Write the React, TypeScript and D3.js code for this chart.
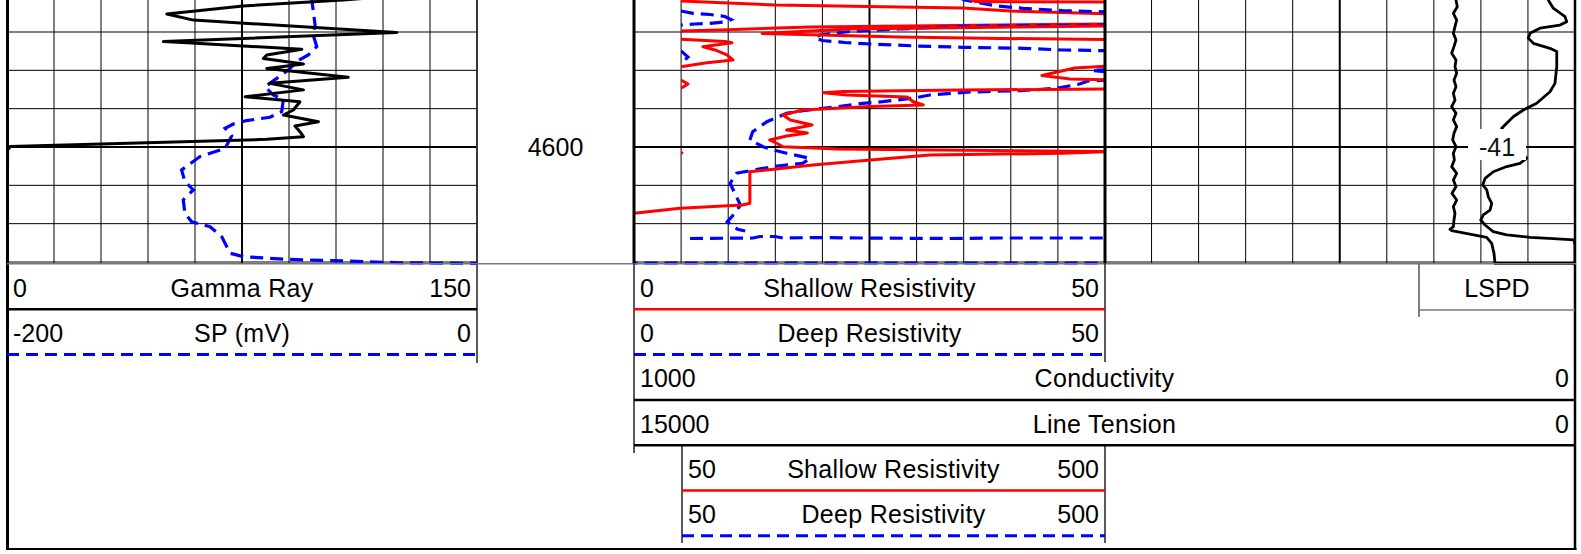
import React from "react";
import * as d3 from "d3";

type Pt = [number, number]; // [depth (ft), value]

// ---- curve data ----
const gammaRay: Pt[] = [
  [4561.0, 117.4], [4561.65, 107.3], [4563.2, 75.3], [4565.3, 51.0], [4566.9, 59.5],
  [4570.1, 124.4], [4572.5, 49.9], [4572.8, 57.4], [4574.5, 94.1], [4576.0, 82.9],
  [4576.9, 81.8], [4578.35, 94.6], [4579.5, 82.9], [4581.8, 108.9], [4583.4, 83.9],
  [4585.1, 94.6], [4586.9, 76.0], [4588.2, 93.5], [4590.35, 91.4], [4591.65, 88.2],
  [4593.4, 99.4], [4594.5, 91.9], [4596.0, 93.5], [4597.3, 94.6], [4598.0, 82.9],
  [4599.9, 1.0], [4600.8, 0.2], [4630, 0],
];

const spCurve: Pt[] = [
  [4560.9, -70.6], [4561.65, -70.3], [4564.3, -69.7], [4568.2, -68.9], [4570.8, -69.7],
  [4573.8, -68.2], [4576.0, -71.8], [4577.7, -76.7], [4579.9, -80.3], [4582.1, -85.2],
  [4584.3, -90.2], [4586.4, -86.7], [4587.7, -82.4], [4590.8, -83.1], [4592.25, -88.1],
  [4593.1, -98.0], [4594.0, -103.7], [4595.1, -107.2], [4597.1, -104.4], [4600.35, -107.2],
  [4602.5, -117.9], [4606.0, -125.7], [4609.05, -124.3], [4611.2, -120.7], [4613.8, -125.0],
  [4617.3, -124.3], [4619.5, -121.4], [4620.8, -113.6], [4623.4, -108.6], [4627.7, -105.1],
  [4628.6, -99.4], [4629.3, -81.0], [4629.65, -61.1], [4630.2, -32.8], [4630.35, 0],
];

const shallowRes: Pt[][] = [
  [[4560.87, 35.1], [4562.04, 36.2], [4562.17, 50.5]],
  [[4568.43, 50.5], [4569.22, 22.9], [4570.39, 13.6], [4571.3, 28.2], [4571.69, 38.9], [4571.95, 50.5]],
  [[4578.87, 50.5], [4579.39, 46.8], [4581.35, 43.3], [4582.26, 46.3], [4582.52, 50.5]],
  [
    [4584.87, 50.5], [4585.13, 34.6], [4585.52, 22.2], [4585.83, 20.1], [4586.43, 22.6],
    [4586.95, 29.0], [4588.13, 29.6], [4589.04, 30.7], [4589.43, 25.1], [4590.35, 17.9],
    [4591.65, 15.8], [4592.95, 16.6], [4594.26, 18.9], [4595.56, 16.2], [4596.35, 18.4],
    [4597.13, 16.2], [4598.17, 14.4], [4599.09, 15.2], [4599.92, 15.8], [4600.52, 21.6],
    [4601.17, 50.5], [4601.64, 45.5], [4602.08, 31.4], [4603.39, 25.1], [4604.69, 19.0],
    [4606.44, 12.3], [4614.69, 12.3], [4615.13, 11.5], [4615.99, 4.9], [4617.3, 0], [4617.48, -1.0],
  ],
];

const shallowResBackup: Pt[][] = [
  [[4561.13, 46.8], [4561.91, 48.9], [4562.95, 149.8], [4563.35, 248.5], [4563.74, 349.3], [4564.52, 399.2], [4565.3, 505.3]],
  [[4569.74, 48.9], [4569.48, 91.4], [4568.69, 186.9], [4568.17, 388.6], [4567.91, 505.3]],
  [
    [4571.9, 50], [4572.48, 96.7], [4572.79, 104.1], [4573.83, 73.3], [4574.69, 86.1],
    [4575.99, 98.8], [4577.3, 105.2], [4578.08, 75.5], [4579.05, 50],
  ],
  [[4582.52, 50], [4583.56, 57.4], [4584.69, 50]],
  [[4601.43, 50], [4601.69, 52.1]],
];

const deepRes: Pt[][] = [
  [[4561.13, 34.6], [4561.65, 35.1], [4563.22, 38.5], [4563.82, 41.3], [4564.44, 45.5], [4564.78, 50.5]],
  [
    [4568.17, 50.5], [4568.51, 34.9], [4569.22, 28.2], [4569.87, 22.9], [4570.78, 19.7],
    [4571.56, 19.2], [4572.22, 20.0], [4572.74, 22.4], [4573.13, 25.1], [4573.65, 30.0],
    [4573.99, 34.9], [4574.25, 41.3], [4574.69, 45.5], [4574.88, 50.5],
  ],
  [[4579.78, 50.5], [4580.04, 48.6], [4580.43, 50.5]],
  [
    [4582.52, 50.5], [4582.78, 48.2], [4583.56, 47.3], [4584.68, 44.9], [4585.31, 41.0],
    [4585.65, 35.7], [4586.43, 31.4], [4587.29, 29.6], [4588.18, 26.4], [4588.6, 24.3],
    [4589.48, 21.6], [4590.53, 17.9], [4591.21, 16.2], [4593.4, 14.1], [4596.0, 12.6],
    [4598.17, 12.3], [4599.92, 13.7], [4600.78, 14.8], [4601.64, 16.2], [4602.95, 18.7],
    [4604.25, 17.9], [4604.95, 15.2], [4605.82, 13.1], [4606.86, 10.9], [4609.47, 10.2],
    [4612.08, 10.7], [4615.13, 11.3], [4617.3, 10.7], [4619.48, 9.9], [4621.47, 11.0], [4621.91, 11.8],
  ],
  [[4630.26, -1.0], [4630.26, 50.5]],
];

const deepResBackup: Pt[][] = [
  [
    [4564.52, 50], [4565.12, 62.7], [4565.43, 80.8], [4565.95, 96.7], [4566.74, 103.1],
    [4567.39, 96.7], [4567.73, 80.8], [4567.91, 64.9], [4568.17, 50],
  ],
  [[4574.95, 50], [4576.52, 57.4], [4577.82, 52.1], [4578.08, 50]],
  [
    [4623.87, 59.6], [4623.74, 126.4], [4623.35, 133.8], [4623.35, 149.8], [4623.74, 158.3],
    [4623.61, 197.5], [4623.74, 240.0], [4623.87, 335.5], [4623.74, 388.6], [4623.74, 505.3],
  ],
];

const lineTension: Pt[] = [
  [4560.78, 1900], [4561.65, 1897], [4563.39, 1876], [4565.13, 1939], [4566.87, 1886],
  [4568.61, 1913], [4570.35, 1939], [4572.08, 1897], [4573.82, 1929], [4575.56, 1966],
  [4577.3, 1897], [4579.04, 1913], [4580.78, 1886], [4582.52, 1929], [4584.26, 1897],
  [4586.0, 1939], [4587.74, 1913], [4589.48, 1966], [4591.22, 1897], [4592.95, 1939],
  [4594.69, 1886], [4596.43, 1929], [4598.17, 1950], [4599.91, 1897], [4601.65, 1939],
  [4603.39, 1923], [4605.13, 1966], [4606.87, 1886], [4608.61, 1939], [4610.35, 1897],
  [4612.09, 1961], [4613.83, 1886], [4615.56, 1939], [4617.3, 1913], [4619.04, 1929],
  [4620.78, 1939], [4621.48, 1993], [4621.83, 1966], [4623.56, 1408], [4625.13, 1328],
  [4627.74, 1291], [4630.35, 1275], [4630.35, 0],
];

const conductivity: Pt[] = [
  [4560.9, 27.6], [4561.65, 28.4], [4563.8, 23.1], [4566.0, 10.6], [4567.3, 8.8],
  [4568.2, 15.9], [4569.0, 37.2], [4570.35, 47.8], [4571.6, 49.6], [4572.95, 44.3],
  [4574.25, 26.6], [4575.1, 19.4], [4579.05, 19.4], [4583.4, 21.3], [4585.6, 26.6],
  [4588.6, 40.7], [4590.35, 54.9], [4592.1, 65.6], [4595.1, 77.9], [4602.95, 51.3],
  [4604.25, 58.4], [4605.1, 72.6], [4606.45, 86.8], [4608.2, 95.6], [4609.9, 98.1],
  [4611.2, 93.8], [4613.0, 92.1], [4614.7, 88.5], [4616.45, 90.3], [4617.7, 97.4],
  [4619.05, 100.2], [4620.35, 95.6], [4622.1, 86.8], [4622.95, 72.6], [4623.55, 47.8],
  [4623.9, 23.1], [4624.25, 1.1], [4625.6, 0], [4631, 0],
];

const lspdLabel = { depth: 4600, text: "-41" };
const depthLabels = [4600];
const depthGridLines = [4560, 4570, 4580, 4590, 4600, 4610, 4620, 4630];
const majorDepths = [4600];

const headerRows = [
  { track: "t1", row: 0, left: "0", title: "Gamma Ray", right: "150", color: "#000", dashed: false },
  { track: "t1", row: 1, left: "-200", title: "SP (mV)", right: "0", color: "#0000ff", dashed: true },
  { track: "t2", row: 0, left: "0", title: "Shallow Resistivity", right: "50", color: "#ff0000", dashed: false },
  { track: "t2", row: 1, left: "0", title: "Deep Resistivity", right: "50", color: "#0000ff", dashed: true },
  { track: "wide", row: 2, left: "1000", title: "Conductivity", right: "0", color: "#000", dashed: false },
  { track: "wide", row: 3, left: "15000", title: "Line Tension", right: "0", color: "#000", dashed: false },
  { track: "backup", row: 4, left: "50", title: "Shallow Resistivity", right: "500", color: "#ff0000", dashed: false },
  { track: "backup", row: 5, left: "50", title: "Deep Resistivity", right: "500", color: "#0000ff", dashed: true },
];

const FONT = "'Liberation Sans', Arial, sans-serif";
const DASH = "12 7";
const CURVE_DASH = "13 7";

export default function App() {
  const width = 1581;
  const height = 554;

  const tracks: Record<string, [number, number]> = {
    t1: [7, 477],
    t2: [634, 1105],
    t3: [1105, 1575],
    backup: [681, 1105],
    wide: [634, 1575],
  };

  const y = d3.scaleLinear().domain([4600, 4630]).range([147, 262]);
  const xGR = d3.scaleLinear().domain([0, 150]).range(tracks.t1);
  const xSP = d3.scaleLinear().domain([-200, 0]).range(tracks.t1);
  const xRes = d3.scaleLinear().domain([0, 50]).range(tracks.t2);
  const xResB = d3.scaleLinear().domain([50, 500]).range(tracks.backup);
  const xCond = d3.scaleLinear().domain([1000, 0]).range(tracks.wide);
  const xTen = d3.scaleLinear().domain([15000, 0]).range(tracks.wide);

  const mk = (x: d3.ScaleLinear<number, number>) =>
    d3.line<Pt>().x((d) => x(d[1])).y((d) => y(d[0]));

  const gridTop = -5;
  const gridBottom = y(4630);

  // vertical grid, expressed in each track's own units
  const grid1 = d3.range(0, 151, 15).map((v) => xGR(v));
  const grid2 = d3.range(0, 51, 5).map((v) => xRes(v));
  const grid3 = d3.range(500, -1, -50).map((v) => xCond(v));

  const gridTracks = [grid1, grid2, grid3];
  const trackSpans: [number, number][] = [tracks.t1, tracks.t2, tracks.t3];

  const rowTop = 264;
  const rowH = 45.3;

  const lspdY = y(lspdLabel.depth);
  const lspdX = 1497;

  return (
    <svg
      width={width}
      height={height}
      style={{ position: "absolute", left: 0, top: 0, background: "#fff" }}
      fontFamily={FONT}
    >
      <defs>
        <clipPath id="clip-t1">
          <rect x={tracks.t1[0]} y={gridTop} width={tracks.t1[1] - tracks.t1[0]} height={gridBottom + 4 - gridTop} />
        </clipPath>
        <clipPath id="clip-t2">
          <rect x={tracks.t2[0]} y={gridTop} width={tracks.t2[1] - tracks.t2[0]} height={gridBottom + 4 - gridTop} />
        </clipPath>
        <clipPath id="clip-b">
          <rect x={tracks.backup[0]} y={gridTop} width={tracks.backup[1] - tracks.backup[0]} height={gridBottom + 4 - gridTop} />
        </clipPath>
        <clipPath id="clip-w">
          <rect x={tracks.wide[0]} y={gridTop} width={tracks.wide[1] - tracks.wide[0]} height={gridBottom + 4 - gridTop} />
        </clipPath>
      </defs>
      <rect x={0} y={0} width={width} height={height} fill="#fff" />

      {/* grids */}
      {gridTracks.map((xs, ti) => (
        <g key={"g" + ti}>
          {xs.map((x, i) => (
            <line
              key={i}
              x1={x}
              x2={x}
              y1={gridTop}
              y2={gridBottom + 2}
              stroke="#000"
              strokeWidth={i === 5 ? 2 : 1}
            />
          ))}
          {depthGridLines.map((d) => (
            <line
              key={"h" + d}
              x1={trackSpans[ti][0]}
              x2={trackSpans[ti][1]}
              y1={y(d)}
              y2={y(d)}
              stroke="#000"
              strokeWidth={majorDepths.includes(d) ? 2 : 1}
            />
          ))}
        </g>
      ))}

      {/* depth track */}
      {depthLabels.map((d) => (
        <text key={d} x={(tracks.t1[1] + tracks.t2[0]) / 2} y={y(d)} fontSize={25} textAnchor="middle" dominantBaseline="central" fill="#000">
          {d}
        </text>
      ))}

      {/* track 1 curves */}
      <g clipPath="url(#clip-t1)" fill="none">
        <path d={mk(xSP)(spCurve) || ""} stroke="#0000ff" strokeWidth={3.2} strokeDasharray={CURVE_DASH} />
        <path d={mk(xGR)(gammaRay) || ""} stroke="#000" strokeWidth={3} strokeLinejoin="round" />
      </g>

      {/* track 2 curves */}
      <g clipPath="url(#clip-b)" fill="none">
        {deepResBackup.map((s, i) => (
          <path key={"db" + i} d={mk(xResB)(s) || ""} stroke="#0000ff" strokeWidth={3.2} strokeDasharray={CURVE_DASH} />
        ))}
        {shallowResBackup.map((s, i) => (
          <path key={"sb" + i} d={mk(xResB)(s) || ""} stroke="#ff0000" strokeWidth={3} strokeLinejoin="round" />
        ))}
      </g>
      <g clipPath="url(#clip-t2)" fill="none">
        {deepRes.map((s, i) => (
          <path key={"d" + i} d={mk(xRes)(s) || ""} stroke="#0000ff" strokeWidth={3.2} strokeDasharray={CURVE_DASH} />
        ))}
        {shallowRes.map((s, i) => (
          <path key={"s" + i} d={mk(xRes)(s) || ""} stroke="#ff0000" strokeWidth={3} strokeLinejoin="round" />
        ))}
      </g>

      {/* track 3 curves */}
      <g clipPath="url(#clip-w)" fill="none">
        <path d={mk(xTen)(lineTension) || ""} stroke="#000" strokeWidth={2.8} strokeLinejoin="round" />
        <path d={mk(xCond)(conductivity) || ""} stroke="#000" strokeWidth={2.8} strokeLinejoin="round" />
      </g>
      <rect x={lspdX - 29} y={lspdY - 18} width={58} height={31} fill="#fff" />
      <text x={lspdX} y={lspdY} fontSize={25} textAnchor="middle" dominantBaseline="central" fill="#111">
        {lspdLabel.text}
      </text>

      {/* track borders */}
      <line x1={7.5} x2={7.5} y1={0} y2={550} stroke="#000" strokeWidth={3} />
      <line x1={tracks.t1[1]} x2={tracks.t1[1]} y1={0} y2={363} stroke="#222" strokeWidth={1.5} />
      <line x1={tracks.t2[0]} x2={tracks.t2[0]} y1={0} y2={gridBottom + 1} stroke="#000" strokeWidth={3} />
      <line x1={tracks.t2[1]} x2={tracks.t2[1]} y1={0} y2={gridBottom + 1} stroke="#000" strokeWidth={3} />
      <line x1={tracks.t3[1]} x2={tracks.t3[1]} y1={0} y2={550} stroke="#000" strokeWidth={2.5} />
      <line x1={7} x2={1576} y1={263.8} y2={263.8} stroke="#777" strokeWidth={1.5} />

      {/* header */}
      <line x1={tracks.t2[0]} x2={tracks.t2[0]} y1={263} y2={453} stroke="#222" strokeWidth={1.5} />
      <line x1={tracks.t2[1]} x2={tracks.t2[1]} y1={263} y2={362} stroke="#222" strokeWidth={1.5} />
      <line x1={tracks.backup[0] + 1} x2={tracks.backup[0] + 1} y1={445} y2={543} stroke="#222" strokeWidth={1.5} />
      <line x1={tracks.backup[1]} x2={tracks.backup[1]} y1={445} y2={543} stroke="#222" strokeWidth={1.5} />
      <line x1={1419} x2={1419} y1={264} y2={317} stroke="#555" strokeWidth={1.5} />
      <line x1={1419} x2={1575} y1={310} y2={310} stroke="#777" strokeWidth={1.5} />
      <text x={1497} y={rowTop + rowH / 2 + 1} fontSize={25} textAnchor="middle" dominantBaseline="central" fill="#000">
        LSPD
      </text>

      {headerRows.map((h, i) => {
        const [l0, r] = tracks[h.track];
        const l = h.track === "backup" ? l0 + 1 : l0;
        const cy = rowTop + h.row * rowH + rowH / 2 + 1;
        const ly = rowTop + (h.row + 1) * rowH;
        return (
          <g key={i} fontSize={25} fill="#000" dominantBaseline="central">
            <text x={l + 6} y={cy} textAnchor="start">{h.left}</text>
            <text x={(l + r) / 2} y={cy} textAnchor="middle" letterSpacing={0.3}>{h.title}</text>
            <text x={r - 6} y={cy} textAnchor="end">{h.right}</text>
            <line
              x1={l}
              x2={r}
              y1={ly}
              y2={ly}
              stroke={h.color}
              strokeWidth={h.dashed ? 3 : 2.5}
              strokeDasharray={h.dashed ? DASH : undefined}
            />
          </g>
        );
      })}

      {/* outer frame bottom */}
      <line x1={6} x2={1576.5} y1={549} y2={549} stroke="#000" strokeWidth={2} />
    </svg>
  );
}
